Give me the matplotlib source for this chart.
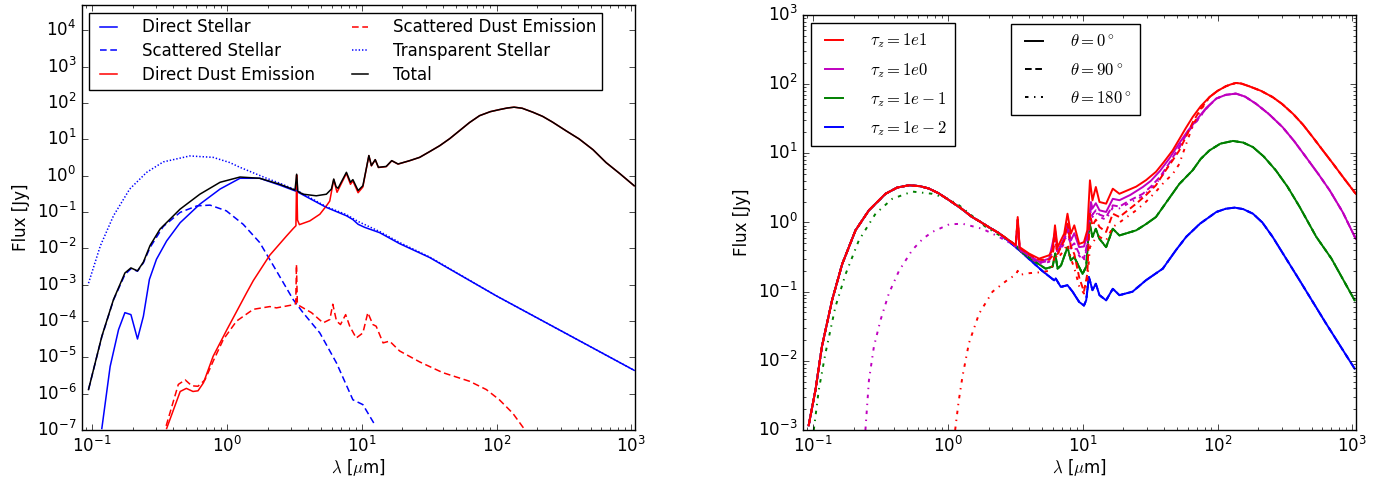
import matplotlib
matplotlib.use("Agg")
import matplotlib.pyplot as plt
from matplotlib.lines import Line2D

plt.style.use("classic")
plt.rcParams["font.family"] = ["DejaVu Sans"]
plt.rcParams["axes.unicode_minus"] = False
plt.rcParams["mathtext.fontset"] = "cm"
plt.rcParams["lines.dashed_pattern"] = [4.8, 2.6]
plt.rcParams["lines.dotted_pattern"] = [1, 1.4]
plt.rcParams["lines.dashdot_pattern"] = [2.5, 4, 1, 4]

# ---------------- left panel: SED components ----------------
lam_dstar = [0.118, 0.136, 0.157, 0.175, 0.194, 0.217, 0.24, 0.266, 0.30, 0.357, 0.45, 0.63, 0.89,
             1.25, 1.75, 2.47, 3.28, 5.47, 7.7, 8.6, 9.4, 10.5, 13.6, 19.1, 31.9, 100, 1050]
f_dstar = [1.1e-7, 5.6e-6, 5.8e-5, 1.7e-4, 1.5e-4, 3.2e-5, 1.35e-4, 1.4e-3, 5e-3, 0.016, 0.051, 0.165, 0.43,
           0.85, 0.85, 0.55, 0.37, 0.134, 0.079, 0.062, 0.046, 0.038, 0.027, 0.0135, 5.6e-3, 4.9e-4, 4.4e-6]

lam_sstar = [0.094, 0.118, 0.144, 0.175, 0.194, 0.217, 0.24, 0.269, 0.337, 0.45, 0.6, 0.75, 0.99,
             1.32, 1.75, 2.33, 3.1, 3.67, 4.89, 6.5, 8.6, 10.2, 12.5]
f_sstar = [1.3e-6, 3.7e-5, 3.8e-4, 1.9e-3, 2.75e-3, 2.35e-3, 4.0e-3, 0.0106, 0.04, 0.098, 0.148, 0.155, 0.108,
           0.046, 0.0145, 2.4e-3, 3.9e-4, 1.7e-4, 4.7e-5, 7e-6, 6.8e-7, 5e-7, 1.4e-7]

lam_ddust = [0.357, 0.45, 0.50, 0.56, 0.61, 0.67, 0.79, 1.0, 1.4, 1.57, 2.08, 2.77, 3.1, 3.25, 3.29, 3.34,
             3.45, 4.12, 4.89, 5.47, 5.79, 6.2, 6.56, 7.7, 8.25, 8.6, 9.4, 10.2, 10.8, 11.3, 11.8, 12.6,
             13.3, 15.2, 16.7, 18.6, 22.7, 26.9, 31.9, 37.9, 45, 53.3, 63, 74.9, 90, 105, 120, 135, 155,
             186, 220, 260, 330, 410, 520, 650, 820, 1050]
f_ddust = [1.1e-7, 1.15e-6, 1.4e-6, 1.15e-6, 1.2e-6, 2e-6, 1.07e-5, 5.8e-5, 6e-4, 1.3e-3, 6.5e-3, 0.022,
           0.035, 0.042, 1.05, 0.06, 0.045, 0.057, 0.087, 0.148, 0.2, 0.78, 0.35, 1.16, 0.58, 0.72, 0.34,
           0.49, 1.5, 3.55, 1.87, 2.75, 1.68, 1.78, 2.58, 2.09, 2.59, 3.2, 4.6, 6.7, 10.5, 17.5, 29, 45, 58,
           66, 73, 77, 72, 56, 43, 30, 17, 10.3, 5.2, 2.3, 1.15, 0.53]

lam_sdust = [0.354, 0.436, 0.49, 0.548, 0.61, 0.687, 0.79, 0.94, 1.18, 1.57, 2.08, 2.33, 3.1, 3.24, 3.28,
             3.33, 3.47, 4.24, 5.17, 5.8, 6.1, 6.5, 6.96, 7.6, 8.15, 9.1, 10.2, 11.1, 12.1, 12.8, 14.4,
             16.1, 19.1, 26.9, 39.9, 63, 84, 105, 132, 164]
f_sdust = [1.3e-7, 1.8e-6, 2.4e-6, 1.65e-6, 1.6e-6, 2.4e-6, 7.8e-6, 3.1e-5, 1e-4, 2.1e-4, 2.5e-4, 2.3e-4,
           2.8e-4, 3e-4, 3.6e-3, 3e-4, 2.6e-4, 1.7e-4, 8.9e-5, 1.1e-4, 2.9e-4, 1e-4, 8e-5, 1.5e-4, 7.2e-5,
           3.4e-5, 4.7e-5, 1.7e-4, 8e-5, 7.2e-5, 2.5e-5, 2.8e-5, 1.5e-5, 7.5e-6, 3.8e-6, 2.2e-6, 1.3e-6,
           6.8e-7, 2.9e-7, 9.6e-8]

lam_tstar = [0.094, 0.115, 0.144, 0.19, 0.254, 0.337, 0.53, 0.79, 1.05, 1.25, 1.97, 2.47, 3.28, 5.47,
             7.7, 9.4, 13.6, 19.1, 31.9, 100, 1050]
f_tstar = [1.1e-3, 0.0117, 0.079, 0.43, 1.24, 2.4, 3.5, 3.2, 2.3, 1.7, 0.85, 0.62, 0.40, 0.14, 0.085,
           0.055, 0.029, 0.0145, 5.8e-3, 4.9e-4, 4.4e-6]

lam_total = [0.094, 0.118, 0.144, 0.175, 0.194, 0.217, 0.24, 0.269, 0.319, 0.449, 0.63, 0.89, 1.25, 1.75,
             2.47, 3.2, 3.29, 3.36, 3.67, 4.6, 5.47, 5.96, 6.2, 6.45, 6.67, 7.7, 8.25, 8.6, 9.4, 10.2,
             10.8, 11.3, 11.8, 12.6, 13.3, 15.2, 16.7, 18.6, 22.7, 26.9, 31.9, 37.9, 45, 53.3, 63, 74.9,
             90, 105, 120, 135, 155, 186, 220, 260, 330, 410, 520, 650, 820, 1050]
f_total = [1.3e-6, 3.8e-5, 3.9e-4, 2.1e-3, 2.9e-3, 2.4e-3, 4.2e-3, 0.012, 0.034, 0.12, 0.31, 0.66, 0.92,
           0.85, 0.58, 0.40, 1.1, 0.37, 0.31, 0.28, 0.31, 0.43, 0.81, 0.5, 0.45, 1.24, 0.66, 0.78, 0.39,
           0.53, 1.53, 3.6, 1.9, 2.77, 1.7, 1.8, 2.6, 2.1, 2.6, 3.2, 4.6, 6.7, 10.5, 17.5, 29, 45, 58,
           66, 73, 77, 72, 56, 43, 30, 17, 10.3, 5.2, 2.3, 1.15, 0.53]

# ---------------- right panel: tau_z / theta grid ----------------
# stellar part seen at theta = 0 and 90 deg (same for every tau_z)
lam_uv = [0.0926, 0.104, 0.116, 0.138, 0.164, 0.206, 0.259, 0.344, 0.42, 0.513, 0.62, 0.72, 0.85,
          1.02, 1.25, 1.51, 1.7, 2.0, 2.39]
f_uv = [1.17e-3, 3.8e-3, 0.016, 0.075, 0.25, 0.77, 1.5, 2.6, 3.2, 3.45, 3.35, 3.1, 2.65, 2.1, 1.6,
        1.2, 1.05, 0.86, 0.7]

# tau_z = 1e1
lam_red_mir = [3.18, 3.29, 3.4, 4.0, 4.74, 5.63, 5.97, 6.22, 6.5, 7.28, 7.7, 8.16, 8.65, 9.41, 10.2,
               10.8, 11.3, 11.8, 12.5, 13.3, 14.9, 16.7, 18.7, 24.9, 29.5, 34.9, 40, 46.4, 52, 58, 65.4, 75]
f_red_0 = [0.47, 1.2, 0.44, 0.355, 0.3, 0.336, 0.4, 0.91, 0.44, 0.69, 1.34, 0.69, 0.91, 0.49, 0.52,
           0.77, 4.07, 2.09, 3.26, 1.98, 1.87, 3.08, 2.6, 3.3, 4.1, 5.4, 7.5, 11, 16, 23, 33.5, 48]
f_red_90 = [0.47, 1.1, 0.43, 0.345, 0.29, 0.29, 0.33, 0.6, 0.35, 0.55, 0.96, 0.45, 0.35, 0.16, 0.1,
            0.18, 1.34, 0.9, 1.1, 0.86, 0.73, 1.34, 1.2, 1.87, 2.5, 3.45, 5.2, 7.9, 11, 17, 28, 44]
f_red_180 = [0.175, 0.2, 0.175, 0.185, 0.19, 0.2, 0.24, 0.35, 0.3, 0.4, 0.49, 0.3, 0.22, 0.12, 0.094,
             0.14, 0.44, 0.5, 0.6, 0.62, 0.55, 0.86, 1.0, 1.5, 2.0, 2.8, 3.8, 5.0, 7.0, 13, 25, 42]
lam_red_uv180 = [1.13, 1.2, 1.28, 1.43, 1.7, 2.14, 2.84]
f_red_uv180 = [1.0e-3, 2.6e-3, 5.9e-3, 0.018, 0.048, 0.1, 0.154]
lam_red_fir = [87.1, 100, 115, 125, 137, 150, 172, 210, 256, 300, 364, 430, 510, 600, 718, 870, 1060]
f_red_fir = [65, 80, 93, 99, 104, 102, 93, 80, 65, 52, 37, 26, 17, 11.2, 7.1, 4.3, 2.6]

# tau_z = 1e0
lam_mag_mir = [3.18, 3.29, 3.4, 4.74, 5.63, 6.25, 6.5, 7.28, 7.7, 8.16, 8.65, 9.4, 10.2, 10.8, 11.5,
               11.8, 12.5, 13.3, 14.9, 16.7, 18.7, 22.5, 27.9, 32, 37.5, 44, 52, 60, 69.5, 82]
f_mag_0 = [0.46, 1.1, 0.42, 0.27, 0.3, 0.75, 0.38, 0.6, 0.96, 0.55, 0.7, 0.44, 0.45, 0.65, 1.98, 1.6,
           1.9, 1.5, 1.42, 2.2, 2.1, 2.5, 3.26, 4.0, 5.6, 8.5, 14, 21, 30, 45]
f_mag_90 = [0.46, 1.0, 0.41, 0.26, 0.28, 0.6, 0.36, 0.55, 0.8, 0.45, 0.5, 0.355, 0.3, 0.5, 1.67, 1.3,
            1.5, 1.3, 1.2, 1.77, 1.7, 2.1, 2.6, 3.3, 4.6, 7.3, 12.5, 20, 29, 44]
f_mag_180 = [0.45, 0.9, 0.4, 0.25, 0.27, 0.55, 0.34, 0.5, 0.75, 0.42, 0.45, 0.33, 0.28, 0.45, 1.5, 1.2,
             1.4, 1.2, 1.1, 1.65, 1.6, 1.95, 2.4, 3.1, 4.3, 7.0, 12, 19.5, 28.5, 43.5]
lam_mag_uv180 = [0.244, 0.259, 0.282, 0.316, 0.364, 0.433, 0.543, 0.65, 0.764, 1.02, 1.28, 1.8, 2.39]
f_mag_uv180 = [1.0e-3, 5.2e-3, 0.016, 0.039, 0.094, 0.2, 0.4, 0.58, 0.73, 0.94, 0.96, 0.81, 0.62]
lam_mag_fir = [98, 115, 137, 160, 193, 240, 303, 370, 453, 560, 680, 850, 1060]
f_mag_fir = [62, 70, 73, 66, 52, 37, 24, 15, 8.8, 5.0, 2.9, 1.4, 0.58]

# tau_z = 1e-1
lam_grn_mir = [3.18, 3.5, 4.2, 5.3, 5.97, 6.25, 6.5, 6.9, 7.7, 8.16, 8.65, 9.96, 10.6, 11.2, 11.8,
               12.5, 13.3, 14.9, 16.7, 18.7, 24.9, 29.5, 34.9, 42, 52, 65.4, 75, 87, 105, 130, 155, 183,
               220, 270, 330, 405, 540, 700, 1040]
f_grn = [0.47, 0.38, 0.29, 0.215, 0.23, 0.355, 0.215, 0.24, 0.44, 0.284, 0.316, 0.18, 0.23, 1.0, 0.62,
         0.81, 0.58, 0.44, 0.81, 0.65, 0.77, 0.95, 1.2, 2.0, 3.6, 5.7, 8.3, 11, 13.8, 15.1, 14.3, 12.3,
         9.0, 5.7, 3.3, 1.7, 0.62, 0.3, 0.075]
lam_grn_uv180 = [0.101, 0.11, 0.123, 0.146, 0.174, 0.218, 0.29, 0.386, 0.543, 0.764, 1.0, 1.21, 1.91]
f_grn_uv180 = [1.0e-3, 3.8e-3, 0.0126, 0.06, 0.18, 0.55, 1.34, 2.2, 2.8, 2.6, 2.2, 1.77, 0.86]

# tau_z = 1e-2
lam_blu_mir = [3.37, 5.0, 6.13, 6.3, 6.87, 7.7, 8.4, 9.4, 10.2, 10.6, 11.1, 11.8, 12.5, 13.3, 14.9,
               16.7, 18.7, 23.4, 29.4, 39.2, 49.2, 58.5, 74, 98, 115, 134, 155, 183, 215, 256, 405, 636,
               1040]
f_blu = [0.4, 0.2, 0.146, 0.155, 0.117, 0.124, 0.1, 0.071, 0.063, 0.075, 0.163, 0.105, 0.13, 0.089,
         0.075, 0.11, 0.089, 0.1, 0.146, 0.215, 0.4, 0.62, 0.96, 1.42, 1.58, 1.64, 1.56, 1.34, 1.0, 0.62,
         0.147, 0.035, 7.7e-3]

tau_labels = [r"$\tau_z=1e1$", r"$\tau_z=1e0$", r"$\tau_z=1e-1$", r"$\tau_z=1e-2$"]
tau_colors = ["r", "m", "g", "b"]
theta_labels = [r"$\theta=0^\circ$", r"$\theta=90^\circ$", r"$\theta=180^\circ$"]
theta_styles = ["-", "--", "-."]

fig = plt.figure(figsize=(13.84, 4.86), dpi=100, facecolor="white")
ax1 = fig.add_axes([0.0592, 0.1152, 0.3996, 0.8745])
ax2 = fig.add_axes([0.5802, 0.1152, 0.3996, 0.8540])

lw = 1.1
ax1.plot(lam_dstar, f_dstar, "b-", lw=lw, label="Direct Stellar")
ax1.plot(lam_sstar, f_sstar, "b--", lw=lw, label="Scattered Stellar")
ax1.plot(lam_ddust, f_ddust, "r-", lw=lw, label="Direct Dust Emission")
ax1.plot(lam_sdust, f_sdust, "r--", lw=lw, label="Scattered Dust Emission")
ax1.plot(lam_tstar, f_tstar, "b:", lw=lw, label="Transparent Stellar")
ax1.plot(lam_total, f_total, "k-", lw=lw, label="Total")
ax1.set_xscale("log")
ax1.set_yscale("log")
ax1.set_xlim(0.084, 1065)
ax1.set_ylim(1e-7, 5e4)
ax1.set_xlabel(r"$\lambda$ [$\mu$m]", fontsize=12, labelpad=1)
ax1.set_ylabel("Flux [Jy]", fontsize=12)
ax1.legend(loc="upper left", ncol=2, fontsize=12, handlelength=1.6, handletextpad=1.2,
           labelspacing=0.35, columnspacing=1.9, borderpad=0.35, borderaxespad=0.45)

lw2 = 1.4
# blue (tau=1e-2): all three viewing angles nearly identical
blu_lam = lam_uv + lam_blu_mir
blu_f = f_uv + f_blu
for ls in theta_styles:
    ax2.plot(blu_lam, blu_f, color="b", ls=ls, lw=lw2)
# green (tau=1e-1)
ax2.plot(lam_uv + lam_grn_mir, f_uv + f_grn, color="g", ls="-", lw=lw2)
ax2.plot(lam_uv + lam_grn_mir, f_uv + f_grn, color="g", ls="--", lw=lw2)
ax2.plot(lam_grn_uv180 + lam_grn_mir, f_grn_uv180 + f_grn, color="g", ls="-.", lw=lw2)
# magenta (tau=1e0)
ax2.plot(lam_uv + lam_mag_mir + lam_mag_fir, f_uv + f_mag_0 + f_mag_fir, color="m", ls="-", lw=lw2)
ax2.plot(lam_uv + lam_mag_mir + lam_mag_fir, f_uv + f_mag_90 + f_mag_fir, color="m", ls="--", lw=lw2)
ax2.plot(lam_mag_uv180 + lam_mag_mir + lam_mag_fir, f_mag_uv180 + f_mag_180 + f_mag_fir,
         color="m", ls="-.", lw=lw2)
# red (tau=1e1)
ax2.plot(lam_red_uv180 + lam_red_mir + lam_red_fir, f_red_uv180 + f_red_180 + f_red_fir,
         color="r", ls="-.", lw=lw2)
ax2.plot(lam_uv + lam_red_mir + lam_red_fir, f_uv + f_red_90 + f_red_fir, color="r", ls="--", lw=lw2)
ax2.plot(lam_uv + lam_red_mir + lam_red_fir, f_uv + f_red_0 + f_red_fir, color="r", ls="-", lw=lw2)

ax2.set_xscale("log")
ax2.set_yscale("log")
ax2.set_xlim(0.084, 1065)
ax2.set_ylim(1e-3, 1e3)
ax2.set_xlabel(r"$\lambda$ [$\mu$m]", fontsize=12, labelpad=1)
ax2.set_ylabel("Flux [Jy]", fontsize=12)

h_tau = [Line2D([], [], color=c, ls="-", lw=lw2) for c in tau_colors]
h_theta = [Line2D([], [], color="k", ls=s, lw=lw2) for s in theta_styles]
leg1 = ax2.legend(h_tau, tau_labels, loc="upper left", fontsize=12, handlelength=1.7,
                  handletextpad=1.3, labelspacing=0.62, borderpad=0.5, borderaxespad=0.5)
ax2.add_artist(leg1)
ax2.legend(h_theta, theta_labels, loc="upper left", bbox_to_anchor=(0.377, 0.978), borderaxespad=0.0,
           fontsize=12, handlelength=1.7, handletextpad=1.3, labelspacing=0.62, borderpad=0.5)

for ax in (ax1, ax2):
    ax.tick_params(labelsize=12)

fig.savefig("out.png", dpi=100, facecolor="white")
